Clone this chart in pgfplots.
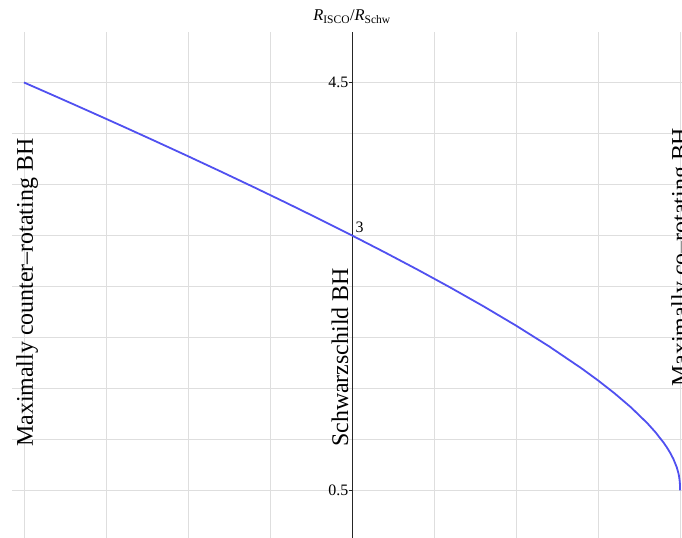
\documentclass[border=0pt]{standalone}
\usepackage{fontspec}
\setmainfont{Liberation Serif}
\usepackage{pgfplots}
\pgfplotsset{compat=1.18}
\definecolor{curvecol}{RGB}{80,80,240}
\definecolor{gridc}{RGB}{222,222,222}

\begin{document}
\begin{tikzpicture}
\begin{axis}[
  scale only axis,
  width=670bp, height=506bp,
  xmin=-1.0366, xmax=1.006,
  ymin=0.034, ymax=4.995,
  axis x line=bottom,
  x axis line style={draw=none},
  axis y line=center,
  y axis line style={-, black!85, line width=0.7bp},
  xtick={-1,-0.75,-0.5,-0.25,0,0.25,0.5,0.75,1},
  xticklabels={},
  ytick={0.5,1,1.5,2,2.5,3,3.5,4,4.5},
  yticklabels={0.5,,,,,,,,4.5},
  major tick length=0pt,
  grid=major,
  grid style={gridc, line width=0.7bp},
  yticklabel style={font=\fontsize{16}{18}\selectfont, anchor=east, inner sep=0pt, xshift=-3.5bp},
  clip=false,
]
\addplot[curvecol, line width=1.8bp, line join=round] coordinates {
(-1,4.5) (-0.99,4.4859) (-0.95,4.4295) (-0.9,4.3587) (-0.85,4.2875) (-0.8,4.2159)
(-0.75,4.1439) (-0.7,4.0715) (-0.6,3.9253) (-0.5,3.7773) (-0.4,3.6271) (-0.3,3.4746)
(-0.2,3.3195) (-0.1,3.1615) (0,3) (0.1,2.8346) (0.2,2.6647) (0.3,2.4893) (0.4,2.3072)
(0.5,2.1165) (0.6,1.9145) (0.7,1.6965) (0.75,1.5790) (0.8,1.4533) (0.85,1.3161)
(0.9,1.1604) (0.925,1.0712) (0.95,0.9686) (0.96,0.9215) (0.97,0.8688) (0.98,0.8070)
(0.99,0.7273) (0.995,0.6705) (0.997,0.6389) (0.999,0.5909) (0.9995,0.5703)
(0.9999,0.5393) (0.99999,0.5183) (1,0.5)
};
% tick marks on the y axis
\draw[black!85, line width=0.7bp] (axis cs:0,0.5) -- ([xshift=-3bp]axis cs:0,0.5);
\draw[black!85, line width=0.7bp] (axis cs:0,4.5) -- ([xshift=-3bp]axis cs:0,4.5);
\node[anchor=base west, inner sep=0pt, font=\fontsize{16}{18}\selectfont] at (axis cs:0,3) [xshift=3.5bp, yshift=2.5bp] {3};
\node[anchor=base, inner sep=0pt, font=\fontsize{16.5}{18}\selectfont] at (axis cs:0,4.995) [yshift=11bp] {\textit{R}\textsubscript{ISCO}/\textit{R}\textsubscript{Schw}};
\node[rotate=90, anchor=base west, inner sep=0pt, font=\fontsize{24}{28}\selectfont] at (axis cs:-0.9726,0.926) {Maximally counter--rotating BH};
\node[rotate=90, anchor=base west, inner sep=0pt, font=\fontsize{24}{28}\selectfont] at (axis cs:-0.012,0.926) {Schwarzschild BH};
\node[rotate=90, anchor=base west, inner sep=0pt, overlay, font=\fontsize{24}{28}\selectfont] at (axis cs:1.024,1.515) {Maximally co--rotating BH};
\coordinate (bl) at (rel axis cs:0,0);
\coordinate (tr) at (rel axis cs:1,1);
\end{axis}
\pgfresetboundingbox
\useasboundingbox ([xshift=-12bp]bl) rectangle ([yshift=32bp]tr);
\end{tikzpicture}
\end{document}
